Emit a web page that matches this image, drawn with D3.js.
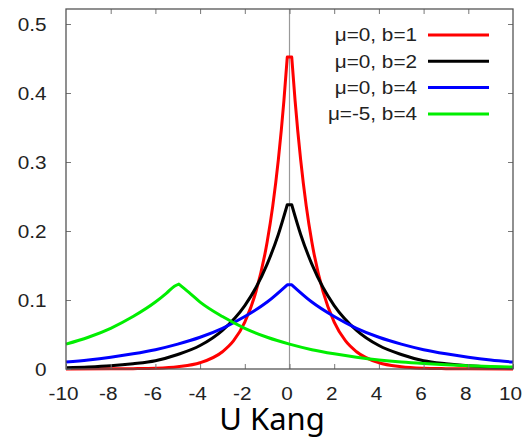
<!DOCTYPE html>
<html>
<head>
<meta charset="utf-8">
<script src="https://cdn.jsdelivr.net/npm/d3@7"></script>
<style>
  html, body { margin: 0; padding: 0; background: #fff; }
  svg { display: block; }
</style>
</head>
<body>
<svg id="chart" width="524" height="437"></svg>
<script>
// Laplace densities, sampled values
const redX   = [-10, -8, -7, -6, -5, -4, -3, -2.5, -2, -1.5, -1, -0.75, -0.5, -0.25, -0.1, 0.1, 0.25, 0.5, 0.75, 1, 1.5, 2, 2.5, 3, 4, 5, 6, 7, 8, 10];
const redY   = [0.00002, 0.0002, 0.0005, 0.0012, 0.0034, 0.009, 0.025, 0.041, 0.068, 0.112, 0.184, 0.236, 0.303, 0.389, 0.452, 0.452, 0.389, 0.303, 0.236, 0.184, 0.112, 0.068, 0.041, 0.025, 0.009, 0.0034, 0.0012, 0.0005, 0.0002, 0.00002];

const blackX = [-10, -9, -8, -7, -6, -5, -4, -3, -2, -1.5, -1, -0.5, -0.1, 0.1, 0.5, 1, 1.5, 2, 3, 4, 5, 6, 7, 8, 9, 10];
const blackY = [0.0017, 0.0028, 0.0046, 0.0076, 0.012, 0.021, 0.034, 0.056, 0.092, 0.118, 0.152, 0.195, 0.238, 0.238, 0.195, 0.152, 0.118, 0.092, 0.056, 0.034, 0.021, 0.012, 0.0076, 0.0046, 0.0028, 0.0017];

const blueX  = [-10, -9, -8, -7, -6, -5, -4, -3, -2, -1, -0.1, 0.1, 1, 2, 3, 4, 5, 6, 7, 8, 9, 10];
const blueY  = [0.010, 0.013, 0.017, 0.022, 0.028, 0.036, 0.046, 0.059, 0.076, 0.097, 0.122, 0.122, 0.097, 0.076, 0.059, 0.046, 0.036, 0.028, 0.022, 0.017, 0.013, 0.010];

const greenX = [-10, -9, -8, -7, -6, -5.5, -5.15, -4.95, -4.5, -4, -3, -2, -1, 0, 1, 2, 3, 4, 5, 6, 7, 8, 9, 10];
const greenY = [0.036, 0.046, 0.059, 0.076, 0.097, 0.110, 0.120, 0.123, 0.111, 0.097, 0.076, 0.059, 0.046, 0.036, 0.028, 0.022, 0.017, 0.013, 0.010, 0.0078, 0.0061, 0.0047, 0.0037, 0.0029];

const seriesNames  = ["μ=0, b=1", "μ=0, b=2", "μ=0, b=4", "μ=-5, b=4"];
const seriesColors = ["#ff0000", "#000000", "#0000ff", "#00ee00"];
const xTicks = [-10, -8, -6, -4, -2, 0, 2, 4, 6, 8, 10];
const yTicks = [0, 0.1, 0.2, 0.3, 0.4, 0.5];
const xLabel = "U Kang";

const series = [
  { name: seriesNames[0], color: seriesColors[0], xs: redX,   ys: redY },
  { name: seriesNames[1], color: seriesColors[1], xs: blackX, ys: blackY },
  { name: seriesNames[2], color: seriesColors[2], xs: blueX,  ys: blueY },
  { name: seriesNames[3], color: seriesColors[3], xs: greenX, ys: greenY }
];

const svg = d3.select("#chart");
const plotLeft = 66, plotRight = 513, plotTop = 9, plotBottom = 369;

const x = d3.scaleLinear().domain([-10, 10]).range([plotLeft, plotRight]);
const y = d3.scaleLinear().domain([0, 0.5]).range([plotBottom, 24]);

const axisColor = "#555";
const tickFont = "'Liberation Sans', Arial, sans-serif";
const fontPx = 18.5;
const stretch = 1.12;   // labels are set slightly wide

// zero axis
svg.append("line")
  .attr("x1", x(0)).attr("x2", x(0))
  .attr("y1", plotTop).attr("y2", plotBottom)
  .attr("stroke", "#999").attr("stroke-width", 1.2);

// curves: smooth flanks, straight across the sampled peak
const seg = d3.line().x(d => x(d[0])).y(d => y(d[1])).curve(d3.curveMonotoneX);
const curves = svg.append("g");
series.forEach(s => {
  const pts = s.xs.map((v, i) => [v, s.ys[i]]);
  const maxV = d3.max(s.ys);
  const i0 = s.ys.indexOf(maxV);
  const i1 = s.ys.lastIndexOf(maxV);
  const d = seg(pts.slice(0, i0 + 1)) + "L" + seg(pts.slice(i1)).slice(1);
  curves.append("path")
    .attr("d", d)
    .attr("fill", "none")
    .attr("stroke", s.color)
    .attr("stroke-width", 3)
    .attr("stroke-linejoin", "round");
});

// axes with inward ticks, mirrored on top and right
const tickLen = 5;
const bottomAxis = d3.axisBottom(x).tickValues(xTicks).tickSizeInner(-tickLen).tickSizeOuter(0).tickFormat(d => String(d));
const leftAxis = d3.axisLeft(y).tickValues(yTicks).tickSizeInner(-tickLen).tickSizeOuter(0).tickFormat(d => d === 0 ? "0" : d3.format(".1f")(d));
const topAxis = d3.axisTop(x).tickValues(xTicks.slice(1, -1)).tickSizeInner(-tickLen).tickSizeOuter(0).tickFormat("");
const rightAxis = d3.axisRight(y).tickValues(yTicks.slice(1)).tickSizeInner(-tickLen).tickSizeOuter(0).tickFormat("");

function styleAxis(sel) {
  sel.select(".domain").remove();
  sel.selectAll(".tick line").attr("stroke", "#777").attr("stroke-width", 1);
  sel.selectAll(".tick text")
    .attr("fill", "#222")
    .style("font-family", tickFont)
    .style("font-size", fontPx + "px");
}

svg.append("g").attr("transform", `translate(0,${plotBottom})`).call(bottomAxis).call(styleAxis)
  .selectAll(".tick text")
  .attr("x", null).attr("y", null).attr("dy", null)
  .attr("text-anchor", "middle")
  .attr("transform", `translate(-3,31) scale(${stretch},1)`);

svg.append("g").attr("transform", `translate(${plotLeft},0)`).call(leftAxis).call(styleAxis)
  .selectAll(".tick text")
  .attr("x", null).attr("dy", "0.35em")
  .attr("text-anchor", "end")
  .attr("transform", `translate(-19.5,0) scale(${stretch},1)`);

svg.append("g").attr("transform", `translate(0,${plotTop})`).call(topAxis).call(styleAxis);
svg.append("g").attr("transform", `translate(${plotRight},0)`).call(rightAxis).call(styleAxis);

// frame
svg.append("rect")
  .attr("x", plotLeft).attr("y", plotTop)
  .attr("width", plotRight - plotLeft).attr("height", plotBottom - plotTop)
  .attr("fill", "none").attr("stroke", axisColor).attr("stroke-width", 1.3);

// legend
const legend = svg.append("g");
series.forEach((s, i) => {
  const ly = 35 + i * 26.3;
  legend.append("text")
    .attr("transform", `translate(417,${ly}) scale(${stretch},1)`)
    .attr("dy", "0.35em")
    .attr("text-anchor", "end")
    .attr("fill", "#222")
    .style("font-family", tickFont)
    .style("font-size", fontPx + "px")
    .text(s.name);
  legend.append("line")
    .attr("x1", 428).attr("x2", 489)
    .attr("y1", ly).attr("y2", ly)
    .attr("stroke", s.color).attr("stroke-width", 3);
});

// x label
svg.append("text")
  .attr("x", 272).attr("y", 430)
  .attr("text-anchor", "middle")
  .attr("fill", "#000")
  .style("font-family", "'Noto Sans', 'Open Sans', sans-serif")
  .style("font-size", "31px")
  .text(xLabel);
</script>
</body>
</html>
